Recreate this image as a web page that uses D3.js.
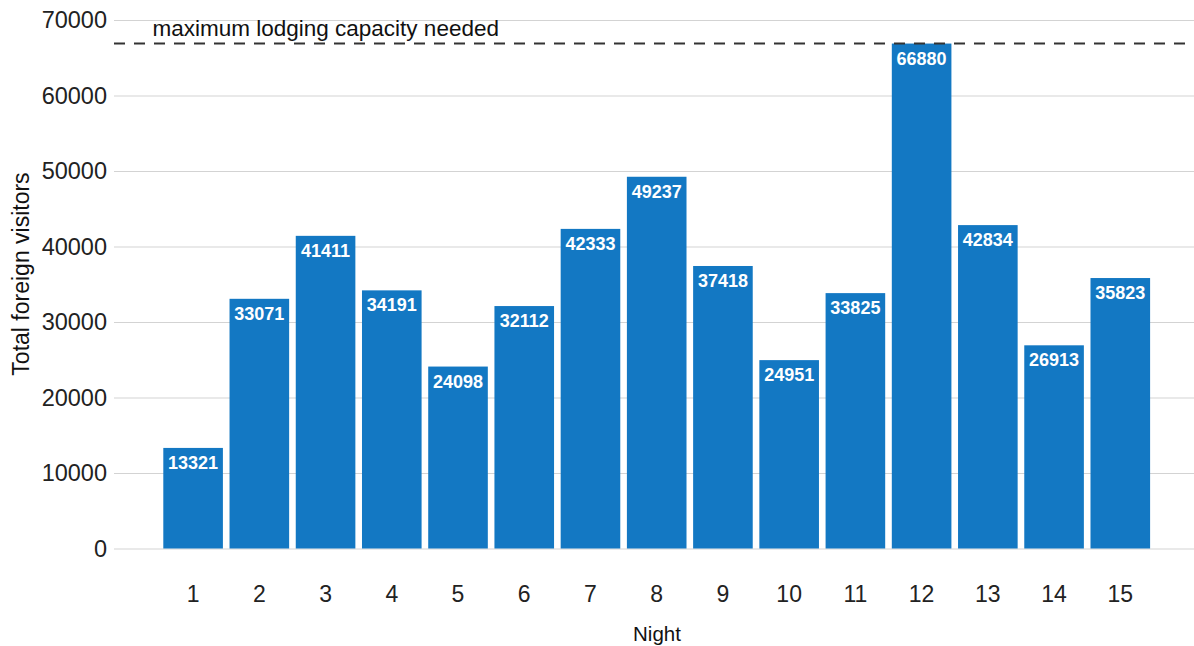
<!DOCTYPE html>
<html>
<head>
<meta charset="utf-8">
<script src="https://cdn.jsdelivr.net/npm/d3@7"></script>
<style>
html,body{margin:0;padding:0;background:#fff;}
svg{display:block;font-family:"Liberation Sans", Arial, sans-serif;}
</style>
</head>
<body>
<svg id="chart" width="1194" height="646"></svg>
<script>
const nights = ["1","2","3","4","5","6","7","8","9","10","11","12","13","14","15"];
const visitors = [13321,33071,41411,34191,24098,32112,42333,49237,37418,24951,33825,66880,42834,26913,35823];
const yTicks = [0,10000,20000,30000,40000,50000,60000,70000];
const capacityLabel = "maximum lodging capacity needed";
const capacity = d3.max(visitors);

const svg = d3.select("#chart");
const plotLeft = 114, plotRight = 1194;

const x = d3.scaleBand().domain(nights).range([163.3, 1150.1]).paddingInner(0.1).paddingOuter(0);
const y = d3.scaleLinear().domain([0, 70000]).range([548.5, 20]);

// gridlines
const yAxis = d3.axisLeft(y).tickValues(yTicks).tickSize(-(plotRight - plotLeft)).tickFormat(d3.format("d")).tickPadding(7);
const gy = svg.append("g").attr("transform", `translate(${plotLeft},0)`).call(yAxis);
gy.select(".domain").remove();
gy.selectAll(".tick line").attr("stroke", "#d3d3d3").attr("stroke-width", 1.1);
gy.selectAll(".tick text").attr("font-size", 23.5).attr("fill", "#222").attr("font-family", "Liberation Sans, Arial, sans-serif");

// bars
svg.append("g").selectAll("rect").data(visitors).join("rect")
  .attr("x", (d, i) => x(nights[i]))
  .attr("y", d => y(d))
  .attr("width", x.bandwidth())
  .attr("height", d => y(0) - y(d))
  .attr("fill", "#1378c3");

// bar labels
svg.append("g").selectAll("text").data(visitors).join("text")
  .attr("x", (d, i) => x(nights[i]) + x.bandwidth() / 2)
  .attr("y", d => y(d) + 21)
  .attr("text-anchor", "middle")
  .attr("font-size", 18)
  .attr("font-weight", "bold")
  .attr("fill", "#fff")
  .text(d => d);

// x axis
const xAxis = d3.axisBottom(x).tickSize(0).tickPadding(0);
const gx = svg.append("g").attr("transform", `translate(0,586)`).call(xAxis);
gx.select(".domain").remove();
gx.selectAll(".tick text").attr("font-size", 23).attr("fill", "#222").attr("font-family", "Liberation Sans, Arial, sans-serif").attr("dy", "0.71em");

// capacity line
svg.append("line")
  .attr("x1", plotLeft).attr("x2", plotRight)
  .attr("y1", y(capacity)).attr("y2", y(capacity))
  .attr("stroke", "#333").attr("stroke-width", 2).attr("stroke-dasharray", "11,9");

svg.append("text")
  .attr("x", 152.5).attr("y", 36)
  .attr("font-size", 22.5).attr("fill", "#111")
  .text(capacityLabel);

// axis titles
svg.append("text")
  .attr("x", 657).attr("y", 641)
  .attr("text-anchor", "middle").attr("font-size", 20.5).attr("fill", "#111")
  .text("Night");

svg.append("text")
  .attr("transform", "translate(29,274) rotate(-90)")
  .attr("text-anchor", "middle").attr("font-size", 23).attr("fill", "#111")
  .text("Total foreign visitors");
</script>
</body>
</html>
